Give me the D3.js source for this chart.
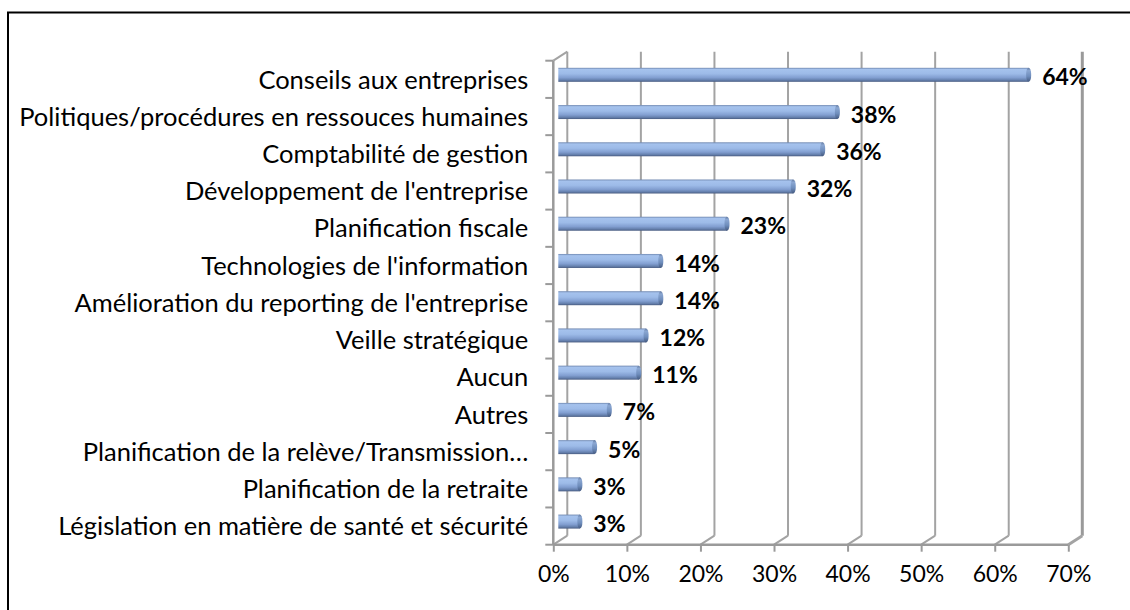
<!DOCTYPE html>
<html>
<head>
<meta charset="utf-8">
<script src="https://cdn.jsdelivr.net/npm/d3@7"></script>
<style>
  html, body { margin: 0; padding: 0; background: #fff; }
  svg { display: block; }
</style>
</head>
<body>
<svg id="chart" width="1130" height="610"></svg>
<script>
// Services demandés (part des répondants)
const categories = [
  "Conseils aux entreprises",
  "Politiques/procédures en ressouces humaines",
  "Comptabilité de gestion",
  "Développement de l'entreprise",
  "Planification fiscale",
  "Technologies de l'information",
  "Amélioration du reporting de l'entreprise",
  "Veille stratégique",
  "Aucun",
  "Autres",
  "Planification de la relève/Transmission…",
  "Planification de la retraite",
  "Législation en matière de santé et sécurité"
];
const values = [64, 38, 36, 32, 23, 14, 14, 12, 11, 7, 5, 3, 3];
const xTicks = [0, 10, 20, 30, 40, 50, 60, 70];

const svg = d3.select("#chart");
const W = 1130, H = 610;

// front plane of the 3D box
const plot = { left: 553.3, right: 1068.3, top: 60.7, bottom: 544.7 };
const depth = { dx: 14, dy: 9 };

const x = d3.scaleLinear().domain([0, 70]).range([plot.left, plot.right]);
const y = d3.scaleBand().domain(categories).range([plot.top, plot.bottom]);

const grid = "#a3a3a3";
const font = "Lato, 'Open Sans', sans-serif";

// outer frame
svg.append("rect")
  .attr("x", 8).attr("y", 12.5)
  .attr("width", W).attr("height", H)
  .attr("fill", "none").attr("stroke", "#000").attr("stroke-width", 2);

const defs = svg.append("defs");
const bodyGrad = defs.append("linearGradient")
  .attr("id", "barBody").attr("x1", 0).attr("y1", 0).attr("x2", 0).attr("y2", 1);
[["0%", "#7088b0"], ["12%", "#a5c2ed"], ["42%", "#9dbbe8"], ["70%", "#829fd1"], ["88%", "#6580ad"], ["100%", "#485b80"]]
  .forEach(([o, c]) => bodyGrad.append("stop").attr("offset", o).attr("stop-color", c));
const capGrad = defs.append("linearGradient")
  .attr("id", "barCap").attr("x1", 0).attr("y1", 0).attr("x2", 0).attr("y2", 1);
[["0%", "#637aa1"], ["20%", "#8ba7d2"], ["60%", "#6f8ebd"], ["100%", "#455a80"]]
  .forEach(([o, c]) => capGrad.append("stop").attr("offset", o).attr("stop-color", c));

const walls = svg.append("g").attr("fill", "none").attr("stroke", grid);

// back wall vertical gridlines
walls.selectAll("line.back").data(xTicks).join("line")
  .attr("class", "back")
  .attr("x1", d => x(d) + depth.dx).attr("x2", d => x(d) + depth.dx)
  .attr("y1", plot.top - depth.dy).attr("y2", plot.bottom - depth.dy)
  .attr("stroke-width", d => d === 70 ? 3 : 2)
  .attr("stroke", d => d === 70 ? "#9a9a9a" : grid);

// floor lines running from the front axis to the back wall
walls.selectAll("line.floor").data(xTicks).join("line")
  .attr("class", "floor")
  .attr("x1", d => x(d)).attr("y1", plot.bottom)
  .attr("x2", d => x(d) + depth.dx).attr("y2", plot.bottom - depth.dy)
  .attr("stroke-width", d => d === 70 ? 3 : 2);

// left wall: front edge and top slant
walls.append("line")
  .attr("x1", plot.left).attr("x2", plot.left)
  .attr("y1", plot.top).attr("y2", plot.bottom)
  .attr("stroke-width", 2.5).attr("stroke", "#9a9a9a");
walls.append("line")
  .attr("x1", plot.left).attr("y1", plot.top)
  .attr("x2", plot.left + depth.dx).attr("y2", plot.top - depth.dy)
  .attr("stroke-width", 2);

// front floor edge
walls.append("line")
  .attr("x1", plot.left).attr("x2", plot.right)
  .attr("y1", plot.bottom).attr("y2", plot.bottom)
  .attr("stroke-width", 2.5).attr("stroke", "#9a9a9a");

// value axis
const xAxis = d3.axisBottom(x).tickValues(xTicks).tickFormat(d => d + "%").tickSize(7).tickPadding(14);
const gx = svg.append("g").attr("transform", `translate(0,${plot.bottom})`).call(xAxis);
gx.select(".domain").remove();
gx.selectAll(".tick line").attr("stroke", "#9a9a9a").attr("stroke-width", 2);
gx.selectAll(".tick text").attr("fill", "#000").attr("font-family", font).attr("font-size", 23);

// category axis
const yAxis = d3.axisLeft(y).tickSize(0).tickPadding(25);
const gy = svg.append("g").attr("transform", `translate(${plot.left},0)`).call(yAxis);
gy.select(".domain").remove();
gy.selectAll(".tick text").attr("fill", "#000").attr("font-family", font).attr("font-size", 25.5)
  .attr("dy", "0.36em");
// tick marks between categories
const bounds = categories.map(c => y(c)).concat([plot.bottom]);
svg.append("g").selectAll("line").data(bounds).join("line")
  .attr("x1", plot.left - 8).attr("x2", plot.left)
  .attr("y1", d => d).attr("y2", d => d)
  .attr("stroke", "#9a9a9a").attr("stroke-width", 2);

// bars: cylinders sitting halfway into the depth
const barH = 14;
const capW = 5;
const rows = categories.map((c, i) => ({ c, v: values[i] }));
const barY = d => y(d.c) + y.bandwidth() / 2 - depth.dy / 2 - barH / 2;
const x0 = x(0) + depth.dx / 2 - 2;
const xEnd = d => x(d.v) + depth.dx / 2;

const bars = svg.append("g");
bars.selectAll("rect.body").data(rows).join("rect")
  .attr("class", "body")
  .attr("x", x0).attr("y", barY)
  .attr("width", d => Math.max(0, xEnd(d) - x0 - capW / 2)).attr("height", barH)
  .attr("fill", "url(#barBody)");
bars.selectAll("rect.cap").data(rows).join("rect")
  .attr("class", "cap")
  .attr("x", d => xEnd(d) - capW).attr("y", barY)
  .attr("width", capW).attr("height", barH)
  .attr("rx", 2.5).attr("ry", 6)
  .attr("fill", "url(#barCap)");

// value labels
svg.append("g").selectAll("text").data(rows).join("text")
  .attr("x", d => xEnd(d) + 11)
  .attr("y", d => barY(d) + barH / 2 + 2.5)
  .attr("dy", "0.35em")
  .attr("font-family", font).attr("font-size", 23).attr("font-weight", "bold")
  .attr("fill", "#000")
  .text(d => d.v + "%");
</script>
</body>
</html>
